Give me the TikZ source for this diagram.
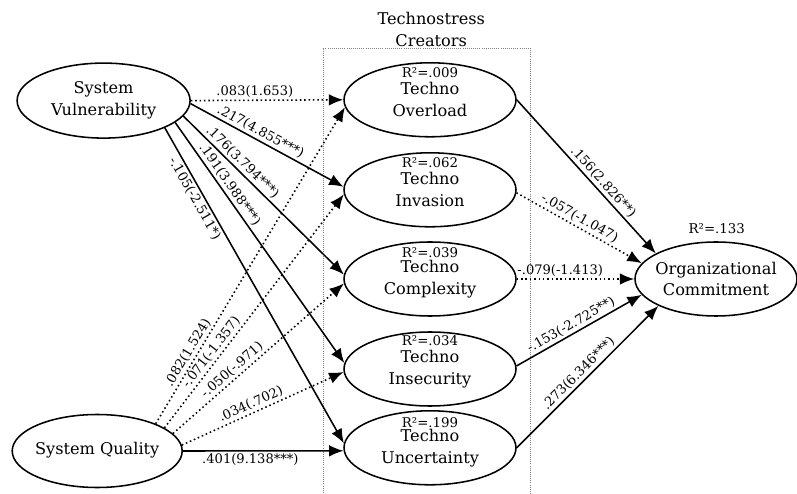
\documentclass[tikz,border=0pt]{standalone}
\usepackage{fontspec}
\setmainfont{DejaVu Serif}
\usetikzlibrary{shapes.geometric,arrows.meta}
\tikzset{
  latent/.style={ellipse,draw,line width=1.1pt,minimum width=4.3cm,minimum height=1.85cm,inner sep=0pt},
  txt/.style={align=center,font=\fontsize{11.5}{15.5}\selectfont,inner sep=0pt},
  rsq/.style={font=\fontsize{9.5}{11}\selectfont,inner sep=0pt},
  coef/.style={font=\fontsize{9.3}{11}\selectfont,sloped,inner sep=1.5pt},
  sig/.style={line width=1.1pt,-{Latex[length=3.6mm,width=2.9mm]}},
  nsig/.style={sig,dotted}
}

\begin{document}
\begin{tikzpicture}
\useasboundingbox (0,0) rectangle (19.925,12.325);
%technostress creators box
\draw[densely dotted,gray,line width=.5pt](8.075,-.2)rectangle(13.25,11.125);
\node[txt] (title) at (10.78,11.59) {Technostress\\Creators};
%system constructs
\node[latent,minimum width=4.325cm,minimum height=1.875cm] (sv) at (2.59,9.81) {};
\node[latent,minimum width=4.25cm,minimum height=1.825cm] (sq) at (2.43,1.05) {};
%technostress constructs
\node[latent] (ovl) at (10.75,9.83) {};
\node[latent] (inv) at (10.75,7.58) {};
\node[latent] (cpx) at (10.75,5.35) {};
\node[latent] (ins) at (10.75,3.10) {};
\node[latent] (unc) at (10.75,1.13) {};
%outcome
\node[latent,minimum width=4.05cm] (oc) at (17.9,5.35) {};
%labels
\node[txt] (sv-t) at (sv) {System\\Vulnerability};
\node[txt] (sq-t) at (2.43,1.075) {System Quality};
\node[txt] (ovl-t) at (ovl) {Techno\\Overload};
\node[txt] (inv-t) at (inv) {Techno\\Invasion};
\node[txt] (cpx-t) at (cpx) {Techno\\Complexity};
\node[txt] (ins-t) at (ins) {Techno\\Insecurity};
\node[txt] (unc-t) at (unc) {Techno\\Uncertainty};
\node[txt] (oc-t) at (oc) {Organizational\\Commitment};
\node[rsq] (ovl-r) at (10.75,10.5) {R²=.009};
\node[rsq] (inv-r) at (10.75,8.25) {R²=.062};
\node[rsq] (cpx-r) at (10.75,6.0) {R²=.039};
\node[rsq] (ins-r) at (10.75,3.8) {R²=.034};
\node[rsq] (unc-r) at (10.75,1.75) {R²=.199};
\node[rsq] (oc-r) at (17.92,6.6) {R²=.133};
%paths from system vulnerability
\draw[nsig] (sv.0) -- node[coef,above,pos=.42]{.083(1.653)} (ovl.180);
\draw[sig] (sv.-2) -- node[coef,above,pos=.43]{.217(4.855***)} (inv.178);
\draw[sig] (sv.-11) -- node[coef,above,pos=.33]{.176(3.794***)} (cpx.177);
\draw[sig] (sv.-17) -- node[coef,above,pos=.28]{.191(3.988***)} (ins.176);
\draw[sig] (sv.-24) -- node[coef,below,pos=.21]{-.105(-2.511*)} (unc.177);
%paths from system quality
\draw[nsig] (sq.25) -- node[coef,above,pos=.21]{.082(1.524)} (ovl.185);
\draw[nsig] (sq.19) -- node[coef,above,pos=.3]{-.071(-1.357)} (inv.183);
\draw[nsig] (sq.13) -- node[coef,above,pos=.38]{-.050(-.971)} (cpx.183);
\draw[nsig] (sq.4) -- node[coef,above,pos=.45]{.034(.702)} (ins.182);
\draw[sig] (sq.0) -- node[coef,below,pos=.42]{.401(9.138***)} (unc.182);
%paths to organizational commitment
\draw[sig] (ovl.0) -- node[coef,above,pos=.575]{.156(2.826**)} (oc.157);
\draw[nsig] (inv.-2) -- node[coef,above,pos=.47]{-.057(-1.047)} (oc.168);
\draw[nsig] (cpx.0) -- node[coef,above,pos=.37]{-.079(-1.413)} (oc.180);
\draw[sig] (ins.2) -- node[coef,above,pos=.47]{-.153(-2.725**)} (oc.192);
\draw[sig] (unc.0) -- node[coef,above,pos=.48]{.273(6.346***)} (oc.205);
\end{tikzpicture}
\end{document}
